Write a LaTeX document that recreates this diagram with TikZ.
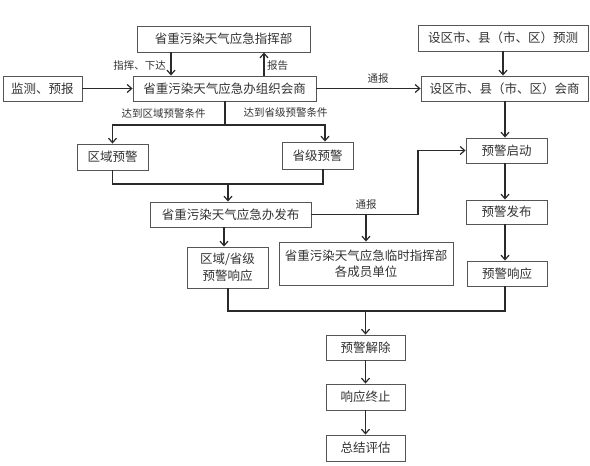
\documentclass[tikz,border=0pt]{standalone}
\usepackage{fontspec}
\setmainfont{Noto Sans CJK SC}
\usetikzlibrary{arrows.meta}
\definecolor{txt}{HTML}{333333}
\definecolor{ln}{HTML}{2A2A2A}
\definecolor{bd}{HTML}{555555}
\tikzset{
  box/.style={draw=bd, line width=0.9pt, fill=white, inner sep=0pt, align=center,
    text=txt, font=\fontsize{12.5}{16.5}\selectfont},
  lbl/.style={inner sep=0pt, text=txt, font=\fontsize{10.5}{12}\selectfont},
  conn/.style={draw=ln, line width=1.2pt},
  arr/.style={conn, -{Straight Barb[length=4.5pt,width=8pt,line width=1.2pt]}},
  heavy/.style={line width=1.7pt},
}
\begin{document}
\begin{tikzpicture}[x=1pt,y=-1pt]
\useasboundingbox (0,0) rectangle (590,466);
% boxes
\node[box, minimum width=173, minimum height=26] (cmd) at (223.5,39) {省重污染天气应急指挥部};
\node[box, minimum width=79, minimum height=25] (mon) at (42.5,88.5) {监测、预报};
\node[box, minimum width=183, minimum height=25] (org) at (224.5,88.5) {省重污染天气应急办组织会商};
\node[box, minimum width=170, minimum height=26] (cityF) at (503,38) {设区市、县（市、区）预测};
\node[box, minimum width=167, minimum height=25] (cityM) at (504.5,88.5) {设区市、县（市、区）会商};
\node[box, minimum width=71, minimum height=26] (reg) at (112.5,157) {区域预警};
\node[box, minimum width=71, minimum height=27] (prov) at (317.5,155.5) {省级预警};
\node[box, minimum width=161, minimum height=25] (pub) at (230.5,214.5) {省重污染天气应急办发布};
\node[box, minimum width=81, minimum height=41] (resp) at (227.5,267.5) {区域/省级\\预警响应};
\node[box, minimum width=174, minimum height=43] (temp) at (366,263.5) {省重污染天气应急临时指挥部\\各成员单位};
\node[box, minimum width=81, minimum height=25] (start) at (506.5,150.5) {预警启动};
\node[box, minimum width=81, minimum height=24] (wpub) at (506.5,212) {预警发布};
\node[box, minimum width=80, minimum height=25] (wresp) at (507,273.5) {预警响应};
\node[box, minimum width=79, minimum height=25] (rel) at (365.5,347.5) {预警解除};
\node[box, minimum width=79, minimum height=26] (fin) at (365.5,397) {响应终止};
\node[box, minimum width=79, minimum height=26] (evl) at (365.5,448) {总结评估};
% labels
\node[lbl, anchor=east] (l1) at (166,66) {指挥、下达};
\node[lbl, anchor=west] (l2) at (267,66) {报告};
\node[lbl] (l3) at (163.5,113) {达到区域预警条件};
\node[lbl] (l4) at (285.5,113) {达到省级预警条件};
\node[lbl] (l5) at (378,79) {通报};
\node[lbl] (l6) at (366,205) {通报};
% junction coordinates
\coordinate (s1) at (225,125);
\coordinate (s2) at (228,184);
\coordinate (s3) at (418,214.5);
\coordinate (s4) at (365.5,311);
% connectors
\draw[arr] (171,0 |- cmd.south) -- (171,0 |- org.north);
\draw[arr] (264,0 |- org.north) -- (264,0 |- cmd.south);
\draw[arr] (mon) -- (org);
\draw[arr] (org) -- (cityM);
\draw[arr] (cityF) -- (cityF |- cityM.north);
\draw[arr] (505,0 |- cityM.south) -- (505,0 |- start.north);
\draw[conn] (225,0 |- org.south) -- (s1);
\draw[arr] (s1) -| (reg.north);
\draw[arr] (s1) -| (325,0 |- prov.north);
\draw[conn] (112.5,0 |- reg.south) |- (323,184) -- (323,0 |- prov.south);
\draw[arr] (s2) -- (228,0 |- pub.north);
\draw[arr] (224,0 |- pub.south) -- (224,0 |- resp.north);
\draw[arr,heavy] (pub.east) -- (s3) |- (start.west);
\draw[arr,heavy] (366,0 |- pub.east) -- (temp.north);
\draw[arr] (505,0 |- start.south) -- (505,0 |- wpub.north);
\draw[arr] (505,0 |- wpub.south) -- (505,0 |- wresp.north);
\draw[conn] (228,0 |- resp.south) |- (505,311) -- (505,0 |- wresp.south);
\draw[arr] (s4) -- (rel.north);
\draw[arr] (rel) -- (fin);
\draw[arr] (fin) -- (evl);
\end{tikzpicture}
\end{document}
